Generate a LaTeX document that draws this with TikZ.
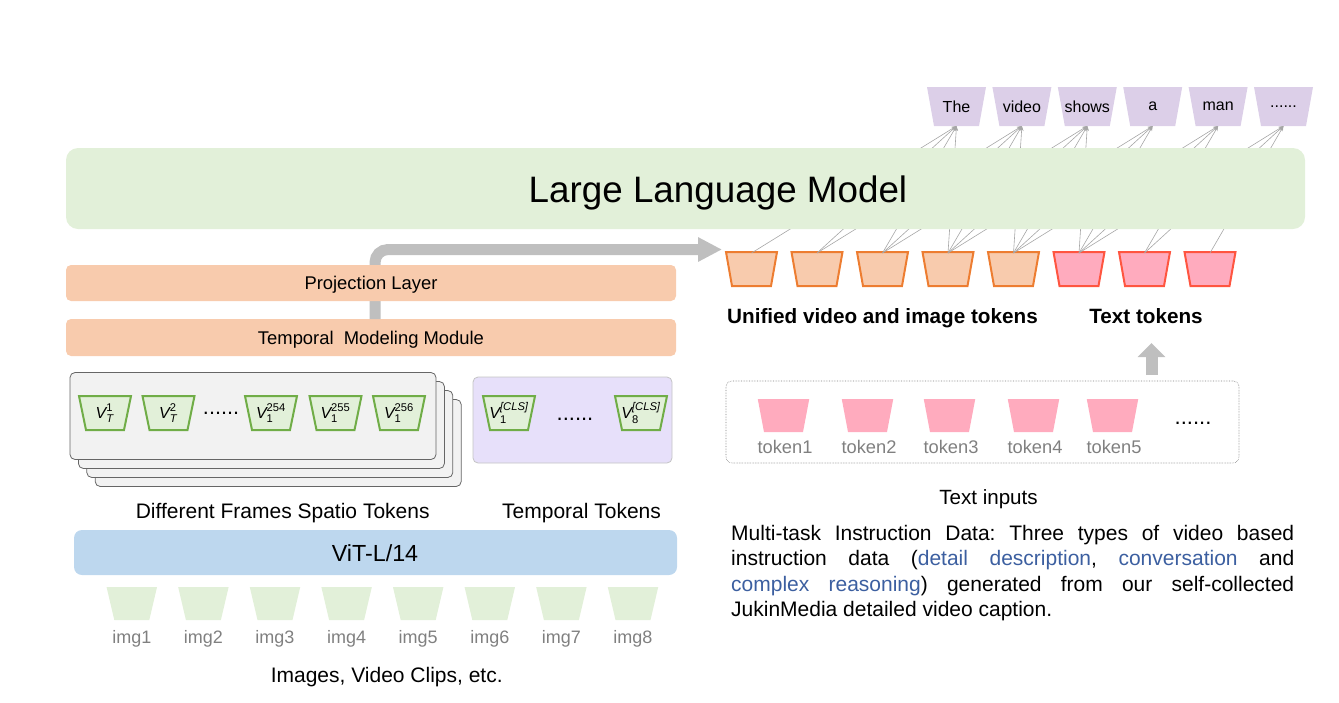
\documentclass[tikz,border=0pt]{standalone}
\usepackage{fontspec}
\setmainfont{Liberation Sans}
\usepackage{amsmath}
\usetikzlibrary{arrows.meta,calc}
\definecolor{llmgreen}{HTML}{E2F0D9}
\definecolor{peach}{HTML}{F8CBAD}
\definecolor{vitblue}{HTML}{BDD7EE}
\definecolor{outpurple}{HTML}{DCCFE8}
\definecolor{orangef}{HTML}{F8CBAD}
\definecolor{orangeb}{HTML}{ED7D31}
\definecolor{pinkf}{HTML}{FFABBE}
\definecolor{redb}{HTML}{FF5540}
\definecolor{greenf}{HTML}{E2F0D9}
\definecolor{greenb}{HTML}{70AD47}
\definecolor{imggreen}{HTML}{E2F0D9}
\definecolor{lav}{HTML}{E7E0FA}
\definecolor{lavb}{HTML}{C4C4C4}
\definecolor{stackf}{HTML}{F2F2F2}
\definecolor{stackb}{HTML}{666666}
\definecolor{arrgray}{HTML}{BFBFBF}
\definecolor{attgray}{HTML}{A6A6A6}
\definecolor{labgray}{HTML}{808080}
\definecolor{linkblue}{HTML}{3C5FA0}
\newcommand\vlab[2]{$\textit{V}^{\text{#1}}_{\text{#2}}$}
\newcommand\sixdots{......}
% name, x, y, top width, bottom width, height, path style, text
\newcommand\trapz[8]{%
  \path[#7] ({#2-#4/2},{#3-#6/2}) -- ({#2+#4/2},{#3-#6/2}) -- ({#2+#5/2},{#3+#6/2}) -- ({#2-#5/2},{#3+#6/2}) -- cycle;
  \node[inner sep=0pt, outer sep=0pt, minimum width=#4pt, minimum height=#6pt] (#1) at (#2,#3) {#8};
}
\begin{document}
\frenchspacing
\begin{tikzpicture}[x=1pt,y=-1pt,
  fs/.style={font=\fontsize{#1}{#1}\selectfont},
  ofill/.style={fill=outpurple},
  vfill/.style={draw=orangeb, fill=orangef, line width=2pt, line join=miter},
  tfill/.style={draw=redb, fill=pinkf, line width=2pt, line join=miter},
  gfill/.style={draw=greenb, fill=greenf, line width=2pt, line join=miter},
  pfill/.style={fill=pinkf},
  ifill/.style={fill=imggreen},
  layerbox/.style={rounded corners=5pt, inner sep=0pt, outer sep=0pt},
  lab/.style={anchor=base, inner sep=0pt},
  graylab/.style={lab, text=labgray, fs=18.3},
  att/.style={draw=attgray, line width=0.6pt, -{Stealth[length=5pt,width=4pt]}},
  bigarrow/.style={draw=arrgray, line width=11pt, rounded corners=13pt, -{Triangle[length=24pt,width=23pt]}},
]
\useasboundingbox (0,0) rectangle (1339,702);

% ---------- output tokens ----------
\begin{scope}[fs=16]
\trapz{o1}{956.5}{106.5}{59}{45}{39}{ofill}{The}
\trapz{o2}{1021.9}{106.5}{59}{45}{39}{ofill}{video}
\trapz{o3}{1087.3}{106.5}{59}{45}{39}{ofill}{shows}
\trapz{o4}{1152.7}{106.5}{59}{45}{39}{ofill}{a}
\trapz{o5}{1218.1}{106.5}{59}{45}{39}{ofill}{man}
\trapz{o6}{1283.5}{106.5}{59}{45}{39}{ofill}{\sixdots}
\end{scope}
% ---------- unified tokens ----------
\foreach \i in {1,2,3,4,5}{
  \pgfmathsetmacro\bx{751.5+65.5*(\i-1)}
  \trapz{b\i}{\bx}{269}{51}{39}{34}{vfill}{}
}
\foreach \i in {6,7,8}{
  \pgfmathsetmacro\bx{751.5+65.5*(\i-1)}
  \trapz{b\i}{\bx}{269}{51}{39}{34}{tfill}{}
}
% ---------- attention lines ----------
\foreach \b/\o in {1/1,2/1,2/2,3/1,3/2,3/3,4/1,4/2,4/3,4/4,5/2,5/3,5/4,5/5,6/3,6/4,6/5,6/6,7/5,7/6,8/6}{
  \draw[att] ([yshift=-1pt]b\b.north) -- (o\o.south);
}
% ---------- LLM ----------
\node[layerbox, rounded corners=12pt, fill=llmgreen, minimum width=1239pt, minimum height=81pt] (llm) at (685.5,188.5) {};
\node[lab, fs=36.8] (llmtxt) at (718,202) {Large Language Model};

% ---------- temporal modeling + projection ----------
\node[layerbox, fill=peach, minimum width=610pt, minimum height=37pt] (tmm) at (371,337.5) {};
\node[lab, fs=18.4] (tmmtxt) at (371,344) {Temporal\ \ Modeling Module};
\coordinate (ptip) at (722,249.5);
\draw[bigarrow] ([xshift=4pt]tmm.north) |- (ptip);
\node[layerbox, fill=peach, minimum width=610pt, minimum height=36pt] (proj) at (371,283) {};
\node[lab, fs=18.4] (projtxt) at (371,289.6) {Projection Layer};

\node[lab, fs=20.7] (unif) at (882.5,323.4) {\bfseries Unified video and image tokens};
\node[lab, fs=20.7] (ttl) at (1146,323.4) {\bfseries Text tokens};

% ---------- text inputs ----------
\coordinate (ua0) at (1151.5,375);
\coordinate (ua1) at (1151.5,343);
\draw[draw=arrgray, line width=12pt, -{Triangle[length=14pt,width=27pt]}] (ua0) -- (ua1);
\node[draw=labgray, densely dotted, line width=0.6pt, rounded corners=6pt, minimum width=513pt, minimum height=82pt, inner sep=0pt] (tin) at (982.5,422) {};
\foreach \i/\x in {1/783.5,2/867.5,3/949.5,4/1033.5,5/1112.5}{
  \trapz{p\i}{\x}{415.5}{51.5}{39}{33}{pfill}{}
  \node[graylab] (pl\i) at (\x+1.5,453.5) {token\i};
}
\node[lab, fs=22] (tdots) at (1193,424) {\sixdots};
\node[lab, fs=20.6] (tinl) at (988.5,504.4) {Text inputs};

% ---------- paragraph ----------
\node[anchor=base west, inner sep=0pt] (para) at (731,540.5) {\parbox[t]{563pt}{\fontsize{21}{25.33}\selectfont
\makebox[563pt][s]{Multi-task Instruction Data: Three types of video based}\\
\makebox[563pt][s]{instruction data (\textcolor{linkblue}{detail description}, \textcolor{linkblue}{conversation} and}\\
\makebox[563pt][s]{\textcolor{linkblue}{complex reasoning}) generated from our self-collected}\\
JukinMedia detailed video caption.}};

% ---------- spatial token stack ----------
\foreach \k in {3,2,1}{
  \node[layerbox, draw=stackb, fill=stackf, line width=0.8pt, minimum width=366pt, minimum height=87pt] (st\k) at ({253+8.4*\k},{416+9*\k}) {};
}
\node[layerbox, draw=stackb, fill=stackf, line width=0.8pt, minimum width=366pt, minimum height=87pt] (st0) at (253,416) {};
\begin{scope}[fs=16]
\trapz{g1}{105}{413}{52}{38}{34}{gfill}{\vlab{1}{\textit{T}}}
\trapz{g2}{168.5}{413}{52}{38}{34}{gfill}{\vlab{2}{\textit{T}}}
\trapz{g3}{271}{413}{52}{38}{34}{gfill}{\vlab{254}{1}}
\trapz{g4}{335.5}{413}{52}{38}{34}{gfill}{\vlab{255}{1}}
\trapz{g5}{399}{413}{52}{38}{34}{gfill}{\vlab{256}{1}}
\end{scope}
\node[lab, fs=21.6] (gdots) at (221,414) {\sixdots};

% ---------- temporal tokens ----------
\node[layerbox, draw=lavb, fill=lav, line width=0.8pt, minimum width=199pt, minimum height=86pt] (tt) at (572.5,420) {};
\begin{scope}[fs=16]
\trapz{c1}{509}{413}{52}{38}{34}{gfill}{\vlab{\itshape[CLS]}{1}}
\trapz{c8}{641}{413}{52}{38}{34}{gfill}{\vlab{\itshape[CLS]}{8}}
\end{scope}
\node[lab, fs=22] (cdots) at (575,420) {\sixdots};

\node[lab, fs=21] (dfl) at (282.7,518) {Different Frames Spatio Tokens};
\node[lab, fs=21] (ttlab) at (581.5,518) {Temporal Tokens};

% ---------- ViT ----------
\node[layerbox, rounded corners=8pt, fill=vitblue, minimum width=603pt, minimum height=45pt] (vit) at (375.5,552.5) {};
\node[lab, fs=23.3] (vittxt) at (375,561) {ViT-L/14};

% ---------- images ----------
\foreach \i in {1,...,8}{
  \pgfmathsetmacro\ix{131.8+71.6*(\i-1)}
  \trapz{im\i}{\ix}{603.5}{50.5}{35}{33}{ifill}{}
  \node[graylab, fs=18] (iml\i) at (\ix,643) {img\i};
}
\node[lab, fs=21] (imgs) at (386.7,682.5) {Images, Video Clips, etc.};
\end{tikzpicture}
\end{document}
